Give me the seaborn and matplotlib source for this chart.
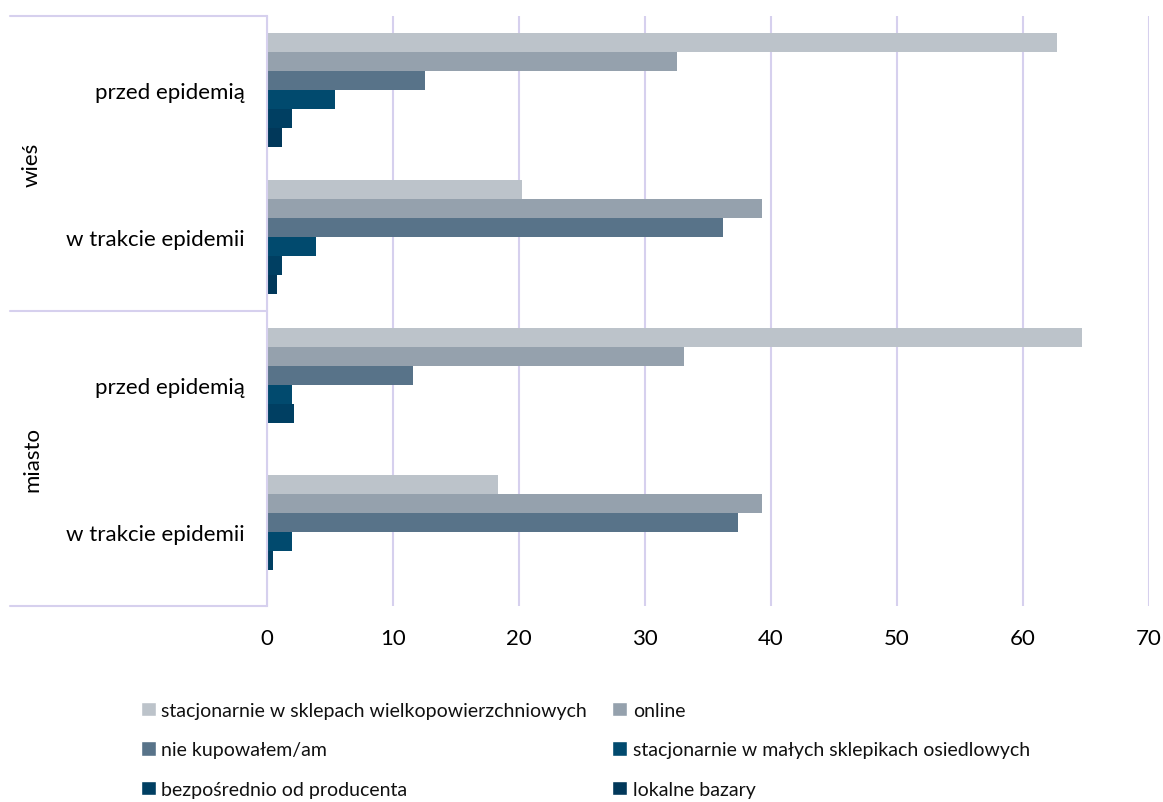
import matplotlib
matplotlib.use("Agg")
import matplotlib.pyplot as plt
import matplotlib.patches as mpatches
import seaborn as sns
import pandas as pd

groups = ["wieś", "wieś", "miasto", "miasto"]
periods = ["przed epidemią", "w trakcie epidemii", "przed epidemią", "w trakcie epidemii"]
series = [
    "stacjonarnie w sklepach wielkopowierzchniowych",
    "online",
    "nie kupowałem/am",
    "stacjonarnie w małych sklepikach osiedlowych",
    "bezpośrednio od producenta",
    "lokalne bazary",
]
wielko = [62.7, 20.2, 64.7, 18.3]
online = [32.5, 39.3, 33.1, 39.3]
nie_kup = [12.5, 36.2, 11.6, 37.4]
male = [5.4, 3.9, 1.95, 2.0]
producent = [1.95, 1.2, 2.15, 0.5]
bazary = [1.2, 0.8, 0.1, 0.0]
xticks = [0, 10, 20, 30, 40, 50, 60, 70]

colors = ["#BCC3CA", "#95A1AD", "#587389", "#014A6E", "#003F62", "#01385A"]
grid_c = "#D6D0EE"

values = [wielko, online, nie_kup, male, producent, bazary]
rows = []
for s, vals in zip(series, values):
    for g, p, v in zip(groups, periods, vals):
        rows.append({"cat": f"{g}|{p}", "series": s, "value": v})
df = pd.DataFrame(rows)
cats = [f"{g}|{p}" for g, p in zip(groups, periods)]

sns.set_theme(style="white")
plt.rcParams["font.family"] = ["Lato", "DejaVu Sans"]

fig = plt.figure(figsize=(11.63, 8.03), dpi=100)
ax = fig.add_axes([267 / 1163, 1 - 607 / 803, (1149 - 267) / 1163, (607 - 17) / 803])

sns.barplot(data=df, y="cat", x="value", hue="series", order=cats,
            hue_order=series, palette=colors, orient="h", width=0.77,
            saturation=1, ax=ax, legend=False, linewidth=0)

ax.set_xlim(0, 70)
ax.set_ylim(len(cats) - 0.5, -0.5)
ax.set_xticks(xticks)
ax.set_xticklabels([str(t) for t in xticks], fontsize=16)
ax.set_yticks(range(len(cats)))
ax.set_yticklabels(periods, fontsize=16)
ax.set_xlabel("")
ax.set_ylabel("")
ax.tick_params(axis="x", length=0, pad=16)
ax.tick_params(axis="y", length=0, pad=16)
for t in ax.get_xticklabels() + ax.get_yticklabels():
    t.set_color("#000000")
ax.grid(axis="x", color=grid_c, linewidth=1.5)
ax.grid(axis="y", visible=False)
ax.set_axisbelow(True)
for sp in ["top", "right", "bottom"]:
    ax.spines[sp].set_visible(False)
ax.spines["left"].set_color(grid_c)
ax.spines["left"].set_linewidth(1.5)

# grouped category table lines and group labels
span = 1149 - 267
x_left = (10 - 267) / span
for yv in [0.0, 0.5, 1.0]:
    ax.plot([x_left, 0], [yv, yv], transform=ax.transAxes, color=grid_c,
            linewidth=1.5, clip_on=False)
ax.text((32 - 267) / span, 0.75, "wieś", transform=ax.transAxes,
        rotation=90, ha="center", va="center", fontsize=16, color="#000000")
ax.text((32 - 267) / span, 0.25, "miasto", transform=ax.transAxes,
        rotation=90, ha="center", va="center", fontsize=16, color="#000000")

handles = [mpatches.Patch(facecolor=c, label=s) for s, c in zip(series, colors)]
order = [0, 2, 4, 1, 3, 5]
leg = fig.legend([handles[i] for i in order], [series[i] for i in order],
                 ncol=2, loc="upper left", bbox_to_anchor=(141 / 1163, 1 - 703 / 803),
                 frameon=False, fontsize=14, handlelength=0.75, handleheight=0.75,
                 handletextpad=0.3, columnspacing=1.3, labelspacing=1.15,
                 borderpad=0, borderaxespad=0)
for t in leg.get_texts():
    t.set_color("#111111")

fig.savefig("out.png", dpi=100)
